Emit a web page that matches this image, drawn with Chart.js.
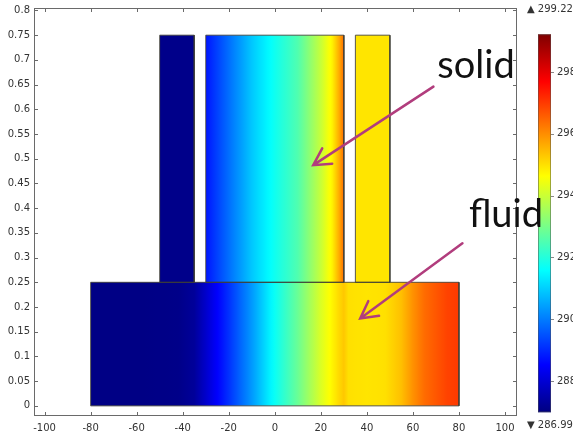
<!DOCTYPE html>
<html>
<head>
<meta charset="utf-8">
<script src="https://cdn.jsdelivr.net/npm/chart.js@4/dist/chart.umd.min.js"></script>
<style>
  html, body { margin: 0; padding: 0; background: #fff; overflow: hidden; }
  canvas { display: block; }
</style>
</head>
<body>
<canvas id="myChart" width="573" height="436"></canvas>
<script>
// Axis ticks
const xTicks = [-100, -80, -60, -40, -20, 0, 20, 40, 60, 80, 100];
const yTicks = [0, 0.05, 0.1, 0.15, 0.2, 0.25, 0.3, 0.35, 0.4, 0.45, 0.5, 0.55, 0.6, 0.65, 0.7, 0.75, 0.8];
const tempTicks = [288, 290, 292, 294, 296, 298];
const tempMin = 286.99;
const tempMax = 299.22;

// Domains: [x0, x1, y0, y1]
const fluidBox = [-80, 80, 0, 0.25];
const leftFinBox = [-50, -35, 0.25, 0.75];
const midBox = [-30, 30, 0.25, 0.75];
const rightFinBox = [35, 50, 0.25, 0.75];

// Temperature (K) read along x for each domain
const fluidX = [-80, -60, -42, -35, -30, -25, -20, -10, 0, 10, 20, 24, 28, 30, 32, 40, 48, 55, 60, 65, 70, 75, 80];
const fluidT = [287.05, 287.05, 287.1, 287.3, 287.9, 288.5, 289.1, 290.35, 291.7, 292.85, 294.2, 294.65, 295.1, 295.3, 295.0, 294.95, 295.0, 295.4, 295.95, 296.4, 296.65, 296.9, 297.0];
const leftFinX = [-50, -35];
const leftFinT = [287.12, 287.12];
const midX = [-30, -20, -10, 0, 10, 20, 25, 28, 30];
const midT = [288.76, 289.84, 290.9, 291.76, 292.53, 293.96, 294.8, 295.65, 296.4];
const rightFinX = [35, 50];
const rightFinT = [294.95, 294.95];

// Annotations (data coordinates)
const notes = [
  { text: 'solid', at: [87.4, 0.664], from: [68.9, 0.646], to: [16.7, 0.487] },
  { text: 'fluid', at: [100.4, 0.361], from: [81.5, 0.329], to: [37.1, 0.177] }
];

function jet(T) {
  const t = Math.min(1, Math.max(0, (T - tempMin) / (tempMax - tempMin)));
  const c = v => Math.round(255 * Math.min(1, Math.max(0, v)));
  const r = c(Math.min(4 * t - 1.5, -4 * t + 4.5));
  const g = c(Math.min(4 * t - 0.5, -4 * t + 3.5));
  const b = c(Math.min(4 * t + 0.5, -4 * t + 2.5));
  return `rgb(${r},${g},${b})`;
}

// horizontal gradient following the temperature readings
function profileFill(xs, ts) {
  return (context) => {
    const chart = context.chart;
    const sx = chart.scales.x;
    if (!chart.chartArea || !sx) return jet(ts[0]);
    const p0 = sx.getPixelForValue(xs[0]);
    const p1 = sx.getPixelForValue(xs[xs.length - 1]);
    const grad = chart.ctx.createLinearGradient(p0, 0, p1, 0);
    const span = xs[xs.length - 1] - xs[0];
    for (let i = 0; i < xs.length - 1; i++) {
      for (let k = 0; k < 6; k++) {
        const f = k / 6;
        const xv = xs[i] + f * (xs[i + 1] - xs[i]);
        const tv = ts[i] + f * (ts[i + 1] - ts[i]);
        grad.addColorStop((xv - xs[0]) / span, jet(tv));
      }
    }
    grad.addColorStop(1, jet(ts[ts.length - 1]));
    return grad;
  };
}

function areaSet(box, xs, ts) {
  return {
    data: [{ x: box[0], y: box[3] }, { x: box[1], y: box[3] }],
    fill: { value: box[2] },
    backgroundColor: profileFill(xs, ts),
    borderWidth: 0,
    pointRadius: 0
  };
}

function outlineSet(box) {
  return {
    data: [
      { x: box[0], y: box[2] }, { x: box[0], y: box[3] },
      { x: box[1], y: box[3] }, { x: box[1], y: box[2] },
      { x: box[0], y: box[2] }
    ],
    fill: false,
    borderColor: 'rgba(60,60,50,0.85)',
    borderWidth: 1,
    pointRadius: 0
  };
}

// fixed axis sizes, no extra padding from the labels
function fixBox(w, h) {
  return s => {
    if (w !== null) s.width = w;
    if (h !== null) s.height = h;
    s.paddingTop = 0; s.paddingBottom = 0;
    s.paddingLeft = 0; s.paddingRight = 0;
  };
}

// Frame, inward ticks, colour bar and notes
const decorPlugin = {
  id: 'decor',
  afterDraw(chart) {
    const { ctx, chartArea: a } = chart;
    const sx = chart.scales.x, sy = chart.scales.y, cb = chart.scales.cb;
    ctx.save();
    ctx.strokeStyle = '#6a6a6a';
    ctx.lineWidth = 1;
    ctx.strokeRect(a.left + 0.5, a.top + 0.5, a.width - 1, a.height - 1);
    ctx.beginPath();
    xTicks.forEach(v => {
      const px = Math.round(sx.getPixelForValue(v)) + 0.5;
      ctx.moveTo(px, a.bottom); ctx.lineTo(px, a.bottom - 4);
      ctx.moveTo(px, a.top); ctx.lineTo(px, a.top + 4);
    });
    yTicks.forEach(v => {
      const py = Math.round(sy.getPixelForValue(v)) + 0.5;
      ctx.moveTo(a.left, py); ctx.lineTo(a.left + 4, py);
      ctx.moveTo(a.right, py); ctx.lineTo(a.right - 4, py);
    });
    ctx.stroke();

    // colour bar
    const bx = cb.left + 21, bw = 13;
    const top = cb.getPixelForValue(tempMax), bot = cb.getPixelForValue(tempMin);
    const g = ctx.createLinearGradient(0, bot, 0, top);
    for (let k = 0; k <= 8; k++) {
      g.addColorStop(k / 8, jet(tempMin + k / 8 * (tempMax - tempMin)));
    }
    ctx.fillStyle = g;
    ctx.fillRect(bx, top, bw, bot - top);
    ctx.strokeStyle = 'rgba(80,80,80,0.5)';
    ctx.strokeRect(bx + 0.5, top + 0.5, bw - 1, bot - top - 1);
    ctx.strokeStyle = '#888';
    ctx.beginPath();
    tempTicks.forEach(v => {
      const py = Math.round(cb.getPixelForValue(v)) + 0.5;
      ctx.moveTo(bx + bw, py); ctx.lineTo(bx + bw + 3, py);
    });
    ctx.stroke();
    ctx.fillStyle = '#333';
    ctx.font = '10px "DejaVu Sans"';
    ctx.textAlign = 'left';
    ctx.textBaseline = 'middle';
    ctx.fillText('\u25B2 ' + tempMax.toFixed(2), bx - 11, top - 25);
    ctx.fillText('\u25BC ' + tempMin.toFixed(2), bx - 11, bot + 13);

    // notes with arrows
    ctx.fillStyle = '#111';
    ctx.font = '38px Lato';
    ctx.textAlign = 'center';
    ctx.textBaseline = 'alphabetic';
    notes.forEach(n => {
      ctx.fillText(n.text, sx.getPixelForValue(n.at[0]), sy.getPixelForValue(n.at[1]));
      const x0 = sx.getPixelForValue(n.from[0]), y0 = sy.getPixelForValue(n.from[1]);
      const x1 = sx.getPixelForValue(n.to[0]), y1 = sy.getPixelForValue(n.to[1]);
      const ang = Math.atan2(y0 - y1, x0 - x1);
      ctx.strokeStyle = '#b13d7d';
      ctx.lineWidth = 2.5;
      ctx.lineCap = 'round';
      ctx.beginPath();
      ctx.moveTo(x0, y0); ctx.lineTo(x1, y1);
      ctx.moveTo(x1 + 19 * Math.cos(ang - 0.5), y1 + 19 * Math.sin(ang - 0.5));
      ctx.lineTo(x1, y1);
      ctx.lineTo(x1 + 19 * Math.cos(ang + 0.5), y1 + 19 * Math.sin(ang + 0.5));
      ctx.stroke();
    });
    ctx.restore();
  }
};

const tickFont = { family: 'DejaVu Sans', size: 10 };

new Chart(document.getElementById('myChart'), {
  type: 'line',
  data: {
    datasets: [
      outlineSet(fluidBox),
      outlineSet(leftFinBox),
      outlineSet(midBox),
      outlineSet(rightFinBox),
      areaSet(fluidBox, fluidX, fluidT),
      areaSet(leftFinBox, leftFinX, leftFinT),
      areaSet(midBox, midX, midT),
      areaSet(rightFinBox, rightFinX, rightFinT)
    ]
  },
  options: {
    responsive: false,
    animation: false,
    layout: { autoPadding: false, padding: { top: 8, right: 0, bottom: 0, left: 0 } },
    elements: { line: { tension: 0 } },
    plugins: { legend: { display: false }, tooltip: { enabled: false } },
    scales: {
      x: {
        type: 'linear',
        min: -104.6,
        max: 105.2,
        afterBuildTicks: s => { s.ticks = xTicks.map(v => ({ value: v })); },
        afterFit: fixBox(null, 20),
        grid: { display: false, drawTicks: false },
        border: { display: false },
        ticks: { font: tickFont, color: '#333', padding: 6, maxRotation: 0, callback: v => String(v) }
      },
      y: {
        type: 'linear',
        min: -0.0205,
        max: 0.805,
        afterBuildTicks: s => { s.ticks = yTicks.map(v => ({ value: v })); },
        afterFit: fixBox(34, null),
        grid: { display: false, drawTicks: false },
        border: { display: false },
        ticks: { font: tickFont, color: '#333', padding: 4, callback: v => String(v) }
      },
      cb: {
        type: 'linear',
        position: 'right',
        min: 286.87,
        max: 300.07,
        afterBuildTicks: s => { s.ticks = tempTicks.map(v => ({ value: v })); },
        afterFit: fixBox(56, null),
        grid: { display: false, drawTicks: false },
        border: { display: false },
        ticks: { font: tickFont, color: '#333', padding: 40, callback: v => String(v) }
      }
    }
  },
  plugins: [decorPlugin]
});
</script>
</body>
</html>
